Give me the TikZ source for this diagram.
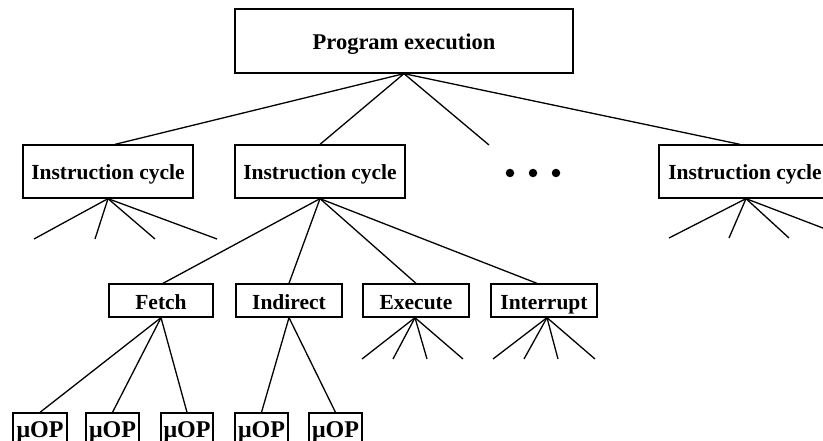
\documentclass[tikz,border=0pt]{standalone}
\usepackage{fontspec}
\setmainfont{Liberation Serif}
\begin{document}
\begin{tikzpicture}[x=1pt,y=-1pt,
  box/.style={draw,line width=1.3pt,inner sep=0pt,text height=17pt,text depth=0pt,font=\fontsize{21.5}{24}\selectfont\bfseries},
  uop/.style={box,minimum height=32pt,text height=16pt,font=\fontsize{24}{26}\selectfont\bfseries},
  link/.style={line width=1.3pt},
  dot/.style={circle,fill,inner sep=0pt,minimum size=8.5pt}]
\clip (0,0) rectangle (823,441);
\fill[white] (0,0) rectangle (823,441);
% top
\node[box,minimum width=338pt,minimum height=64pt,font=\fontsize{22.5}{24}\selectfont\bfseries] (pe) at (404,41) {Program execution};
% instruction cycles
\node[box,minimum width=170pt,minimum height=53pt] (ic1) at (108,171.5) {Instruction cycle};
\node[box,minimum width=170pt,minimum height=53pt] (ic2) at (320,171.5) {Instruction cycle};
\node[box,minimum width=172pt,minimum height=53pt] (ic3) at (745,171.5) {Instruction cycle};
\node[dot] (d1) at (510,173) {};
\node[dot] (d2) at (533,173) {};
\node[dot] (d3) at (556,173) {};
\coordinate (dl) at (489,145);
% phases
\node[box,minimum width=104pt,minimum height=33pt] (fetch) at (161,300.5) {Fetch};
\node[box,minimum width=106pt,minimum height=33pt] (indirect) at (289,300.5) {Indirect};
\node[box,minimum width=106pt,minimum height=33pt] (execute) at (416,300.5) {Execute};
\node[box,minimum width=106pt,minimum height=33pt] (interrupt) at (544,300.5) {Interrupt};
% micro-ops
\node[uop,minimum width=54pt] (m1) at (40,429) {μOP};
\node[uop,minimum width=53pt] (m2) at (112.5,429) {μOP};
\node[uop,minimum width=52pt] (m3) at (187,429) {μOP};
\node[uop,minimum width=53pt] (m4) at (261.5,429) {μOP};
\node[uop,minimum width=53pt] (m5) at (335.5,429) {μOP};
% connectors from program execution
\draw[link] ([xshift=7pt]ic1.north) -- (pe.south) -- (ic2.north);
\draw[link] (pe.south) -- (dl);
\draw[link] (pe.south) -- ([xshift=-5pt]ic3.north);
% from instruction cycle 2
\draw[link] (ic2.south) -- ([xshift=2pt]fetch.north);
\draw[link] (ic2.south) -- (indirect.north);
\draw[link] (ic2.south) -- (execute.north);
\draw[link] (ic2.south) -- ([xshift=-7pt]interrupt.north);
% micro-ops
\draw[link] (fetch.south) -- (m1.north);
\draw[link] (fetch.south) -- (m2.north);
\draw[link] (fetch.south) -- (m3.north);
\draw[link] (indirect.south) -- (m4.north);
\draw[link] (indirect.south) -- (m5.north);
% open fans
\foreach \x [count=\i] in {34,95,155,217} {
  \coordinate (fa\i) at (\x,239);
  \draw[link] (ic1.south) -- (fa\i);
}
\foreach \x [count=\i] in {669,729,789,849} {
  \coordinate (fc\i) at (\x,238);
  \draw[link] ([xshift=1pt]ic3.south) -- (fc\i);
}
\foreach \x [count=\i] in {362,393,427,463} {
  \coordinate (fe\i) at (\x,359);
  \draw[link] ([xshift=-1pt]execute.south) -- (fe\i);
}
\foreach \x [count=\i] in {493,524,558,595} {
  \coordinate (fi\i) at (\x,359);
  \draw[link] ([xshift=3pt]interrupt.south) -- (fi\i);
}
\end{tikzpicture}
\end{document}
